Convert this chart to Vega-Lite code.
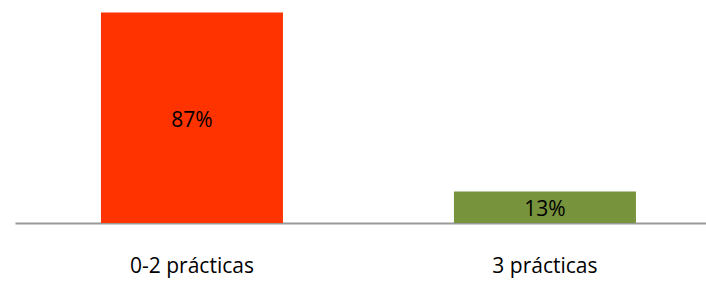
{
  "$schema": "https://vega.github.io/schema/vega-lite/v6.json",
  "width": 691,
  "height": 223,
  "padding": {"left": 15, "top": 0, "right": 0, "bottom": 58},
  "autosize": {"type": "none"},
  "background": "white",
  "config": {"view": {"stroke": null}},
  "data": {"values": [
    {"category": "0-2 prácticas", "value": 87, "label": "87%"},
    {"category": "3 prácticas", "value": 13, "label": "13%"}
  ]},
  "encoding": {
    "x": {
      "field": "category", "type": "nominal", "sort": null,
      "scale": {"paddingInner": 0.4844, "paddingOuter": 0.221, "align": 0.551},
      "axis": {
        "title": null, "labelAngle": 0, "ticks": false, "labelPadding": 32,
        "labelFont": "Open Sans", "labelFontSize": 21, "labelColor": "#000000",
        "domainColor": "#999999", "domainWidth": 2
      }
    }
  },
  "layer": [
    {
      "mark": {"type": "bar"},
      "encoding": {
        "y": {"field": "value", "type": "quantitative", "scale": {"domain": [0, 92.2], "nice": false}, "axis": null},
        "color": {"field": "category", "type": "nominal", "scale": {"range": ["#FF3300", "#77933C"]}, "legend": null}
      }
    },
    {
      "transform": [{"calculate": "datum.value / 2", "as": "mid"}],
      "mark": {"type": "text", "font": "Open Sans", "fontSize": 21, "color": "#000000", "baseline": "middle", "dy": 3},
      "encoding": {
        "y": {"field": "mid", "type": "quantitative", "scale": {"domain": [0, 92.2], "nice": false}, "axis": null},
        "text": {"field": "label"}
      }
    }
  ]
}
